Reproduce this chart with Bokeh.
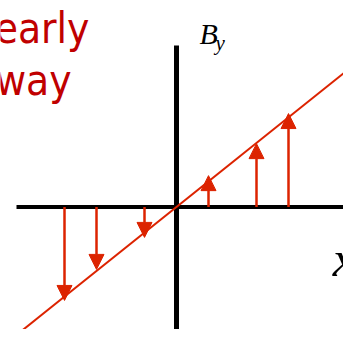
from bokeh.plotting import figure
from bokeh.models import Range1d, Arrow, NormalHead, ColumnDataSource
from bokeh.core.properties import value
from bokeh.embed import file_html
from bokeh.resources import INLINE

# data
arrow_x = [-3.5, -2.5, -1.0, 1.0, 2.5, 3.5]
arrow_by = [-2.92, -1.95, -0.95, 0.98, 1.98, 2.92]
line_x = [-5.0, 5.5]
line_by = [-4.0, 4.4]
haxis_x = [-5.0, 5.7]
vaxis_y = [-4.05, 5.05]
title_lines = ["early", "way"]

RED = "#DC2300"
TXT = "#C00000"

p = figure(width=343, height=329, output_backend="svg", toolbar_location=None,
           x_range=Range1d(-5.5, 5.21875), y_range=Range1d(-3.828, 6.453),
           x_axis_location=None, y_axis_location=None, min_border=0)
p.grid.visible = False
p.outline_line_color = None
p.background_fill_color = "white"
p.border_fill_color = "white"

# coordinate axes
p.line(haxis_x, [0, 0], line_color="black", line_width=4)
p.line([0, 0], vaxis_y, line_color="black", line_width=5)

# field line
p.line(line_x, line_by, line_color=RED, line_width=2)

# arrows
src = ColumnDataSource(dict(xs=arrow_x, ys=[0] * len(arrow_x), xe=arrow_x, ye=arrow_by))
p.add_layout(Arrow(end=NormalHead(size=15, fill_color=RED, line_color=RED, line_width=1),
                   x_start="xs", y_start="ys", x_end="xe", y_end="ye", source=src,
                   line_color=RED, line_width=2.5))

# labels
p.text(x=[-2.72], y=[5.58], text=[title_lines[0]], text_color=TXT,
       text_font=value("DejaVu Sans Condensed"), text_font_size="42px",
       text_align="right", text_baseline="alphabetic")
p.text(x=[-3.28], y=[3.95], text=[title_lines[1]], text_color=TXT,
       text_font=value("DejaVu Sans Condensed"), text_font_size="42px",
       text_align="right", text_baseline="alphabetic")

p.text(x=[0.72], y=[5.42], text=["B"], text_color="black",
       text_font=value("Liberation Serif"), text_font_style="italic",
       text_font_size="30px", text_align="left", text_baseline="alphabetic")
p.text(x=[1.22], y=[5.12], text=["y"], text_color="black",
       text_font=value("Liberation Serif"), text_font_style="italic",
       text_font_size="21px", text_align="left", text_baseline="alphabetic")
p.text(x=[4.88], y=[-1.61], text=["x"], text_color="black",
       text_font=value("Liberation Serif"), text_font_style="italic",
       text_font_size="50px", text_align="left", text_baseline="alphabetic")

open("out.html", "w").write(file_html(p, INLINE))
